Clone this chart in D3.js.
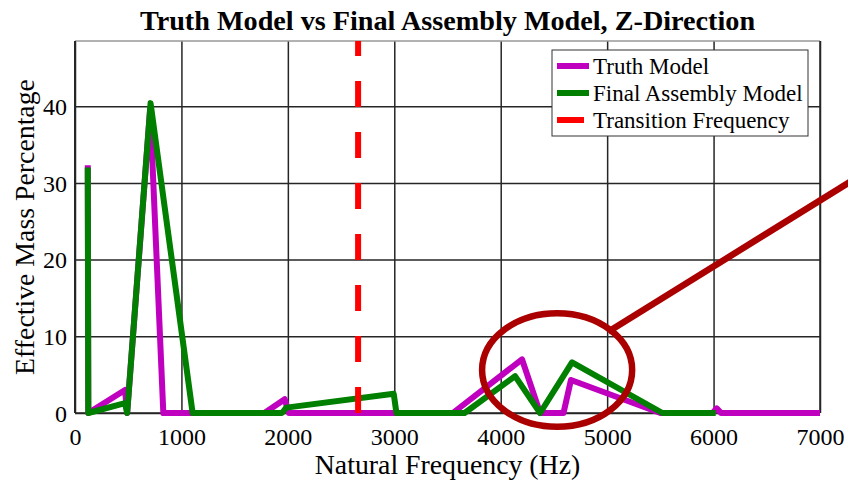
<!DOCTYPE html>
<html>
<head>
<meta charset="utf-8">
<script src="https://cdn.jsdelivr.net/npm/d3@7"></script>
<style>
  body { margin: 0; background: #fff; }
</style>
</head>
<body>
<script>
// chart values
const truthFreq  = [120, 125, 470, 490, 706, 830, 1780, 1970, 2010, 3550, 4200, 4370, 4590, 4660, 5500, 5990, 6030, 6070, 7000];
const truthMass  = [32.3, 0, 3.0, 0, 39.6, 0, 0, 1.8, 0, 0, 7.0, 0, 0, 4.3, 0, 0, 0.6, 0, 0];
const finalFreq  = [120, 125, 470, 490, 710, 1105, 1945, 1985, 2995, 3020, 3660, 4135, 4370, 4670, 5520, 6020];
const finalMass  = [32.0, 0, 1.3, 0, 40.4, 0, 0, 0.7, 2.5, 0, 0, 4.8, 0, 6.6, 0, 0];
const transitionFreq = 2660;
const xTicks = [0, 1000, 2000, 3000, 4000, 5000, 6000, 7000];
const yTicks = [0, 10, 20, 30, 40];
const legendLabels = ["Truth Model", "Final Assembly Model", "Transition Frequency"];
// annotation (ellipse + pointer) in data units
const circleCenter = [4530, 5.6];
const circleRadius = [705, 7.4];
const pointerFrom = [5010, 10.6];
const pointerTo = [7290, 30.2];

const FONT = "'Liberation Serif', 'Times New Roman', serif";
const width = 848;
const height = 483;
const margin = { top: 41, right: 28, bottom: 70, left: 75 };
const plotW = width - margin.left - margin.right;
const plotH = height - margin.top - margin.bottom;

const svg = d3.select("body").append("svg")
    .attr("width", width)
    .attr("height", height)
    .attr("viewBox", [0, 0, width, height]);

const x = d3.scaleLinear().domain([0, 7000]).range([margin.left, margin.left + plotW]);
const y = d3.scaleLinear().domain([0, 48.5]).range([margin.top + plotH, margin.top]);

// grid + tick labels
const xAxis = svg.append("g")
    .attr("transform", `translate(0,${margin.top + plotH})`)
    .call(d3.axisBottom(x).tickValues(xTicks).tickFormat(d3.format("d")).tickSize(-plotH).tickPadding(15));
const yAxis = svg.append("g")
    .attr("transform", `translate(${margin.left},0)`)
    .call(d3.axisLeft(y).tickValues(yTicks).tickSize(-plotW).tickPadding(8));

[xAxis, yAxis].forEach(g => {
  g.attr("font-family", null);
  g.select(".domain").remove();
  g.selectAll(".tick line").attr("stroke", "#262626").attr("stroke-width", 1.5);
  g.selectAll(".tick text")
      .style("font-family", FONT).style("font-size", "24px").attr("fill", "#000");
});
yAxis.selectAll(".tick text").attr("dy", "0.34em");

// box
svg.append("line").attr("x1", margin.left).attr("x2", margin.left + plotW)
    .attr("y1", margin.top).attr("y2", margin.top).attr("stroke", "#999").attr("stroke-width", 1.5);
svg.append("line").attr("x1", margin.left).attr("x2", margin.left + plotW)
    .attr("y1", margin.top + plotH).attr("y2", margin.top + plotH).attr("stroke", "#262626").attr("stroke-width", 1.5);
svg.append("line").attr("x1", margin.left).attr("x2", margin.left)
    .attr("y1", margin.top).attr("y2", margin.top + plotH).attr("stroke", "#262626").attr("stroke-width", 2);
svg.append("line").attr("x1", margin.left + plotW).attr("x2", margin.left + plotW)
    .attr("y1", margin.top).attr("y2", margin.top + plotH).attr("stroke", "#262626").attr("stroke-width", 1.5);

// series
const line = d3.line().x(d => x(d[0])).y(d => y(d[1]));
const truth = d3.zip(truthFreq, truthMass);
const final = d3.zip(finalFreq, finalMass);

svg.append("path").datum(truth)
    .attr("d", line).attr("fill", "none")
    .attr("stroke", "#bf00bf").attr("stroke-width", 6)
    .attr("stroke-linejoin", "round");
svg.append("path").datum(final)
    .attr("d", line).attr("fill", "none")
    .attr("stroke", "#007f00").attr("stroke-width", 6)
    .attr("stroke-linejoin", "round");

// transition frequency, dashes start from the bottom
svg.append("line")
    .attr("x1", x(transitionFreq)).attr("x2", x(transitionFreq))
    .attr("y1", y(0)).attr("y2", y(48.5))
    .attr("stroke", "#ff0000").attr("stroke-width", 6)
    .attr("stroke-dasharray", "26,25");

// title and labels
svg.append("text")
    .attr("x", margin.left + plotW / 2).attr("y", 30)
    .attr("text-anchor", "middle")
    .style("font-family", FONT).style("font-size", "28.2px").style("font-weight", "bold")
    .text("Truth Model vs Final Assembly Model, Z-Direction");

svg.append("text")
    .attr("x", margin.left + plotW / 2).attr("y", 474)
    .attr("text-anchor", "middle")
    .style("font-family", FONT).style("font-size", "27.8px")
    .text("Natural Frequency (Hz)");

svg.append("text")
    .attr("transform", `translate(34,${margin.top + plotH / 2}) rotate(-90)`)
    .attr("text-anchor", "middle")
    .style("font-family", FONT).style("font-size", "27.8px")
    .text("Effective Mass Percentage");

// legend
const legend = svg.append("g").attr("transform", "translate(552,50)");
legend.append("rect").attr("width", 256).attr("height", 86)
    .attr("fill", "#fff").attr("stroke", "#333").attr("stroke-width", 1);
const legendColors = ["#bf00bf", "#007f00", "#ff0000"];
legendLabels.forEach((label, i) => {
  const by = 24 + i * 27;
  legend.append("line")
      .attr("x1", 5).attr("x2", i === 2 ? 32 : 37)
      .attr("y1", by - 8).attr("y2", by - 8)
      .attr("stroke", legendColors[i]).attr("stroke-width", 6);
  legend.append("text")
      .attr("x", 41).attr("y", by)
      .style("font-family", FONT).style("font-size", "23px")
      .text(label);
});

// annotation
const ann = "#ab0000";
svg.append("ellipse")
    .attr("cx", x(circleCenter[0])).attr("cy", y(circleCenter[1]))
    .attr("rx", x(circleCenter[0] + circleRadius[0]) - x(circleCenter[0]))
    .attr("ry", y(circleCenter[1]) - y(circleCenter[1] + circleRadius[1]))
    .attr("fill", "none").attr("stroke", ann).attr("stroke-width", 6.5);
svg.append("line")
    .attr("x1", x(pointerFrom[0])).attr("y1", y(pointerFrom[1]))
    .attr("x2", x(pointerTo[0])).attr("y2", y(pointerTo[1]))
    .attr("stroke", ann).attr("stroke-width", 6.5);
</script>
</body>
</html>
